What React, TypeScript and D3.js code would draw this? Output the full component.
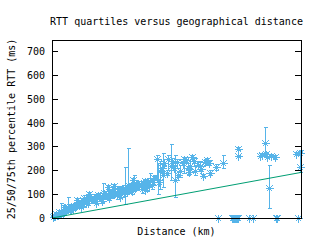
import React from 'react';
import * as d3 from 'd3';

// distance (km) and RTT quartiles (ms) per measured path
const distanceKm = [
  100, 250, 400, 550, 700, 720, 850, 950, 1150, 1280, 1300, 1450, 1500, 1650, 1800, 2000,
  2200, 2400, 2600, 2800, 3000, 3200, 3400, 3600, 3855, 4100, 4300, 4500, 4700, 4900,
  5100, 5300, 5500, 5700, 5900, 6100, 6300, 6500, 6600, 6800, 7000, 7150, 7400, 7700,
  7870, 8100, 8400, 8500, 8700, 8900, 9300, 9520, 9850, 10040, 10300, 10600, 10900,
  11100, 11250, 11500, 11900, 12100, 12300, 12450, 12700, 13150, 13700, 14940, 14940,
  16700, 16900, 17108, 17200, 17300, 17400, 17600, 17900, 19600, 19900, 19920,
  300, 600, 1000, 1700, 2300, 2900, 3500, 4000, 4600, 5200, 5800, 6400, 7200, 7600, 8000,
  200, 500, 800, 1100, 1400, 1900, 2100, 2500, 2700, 3100, 3300, 3700, 3900, 4200, 4400,
  4800, 5000, 5400, 5600, 6000, 6200, 6700, 6900, 7300, 7500, 7800, 8200, 8600, 8800,
  9000, 9200, 9600, 9800, 10100, 10500, 10800, 11000, 11400, 11700, 12000, 12600,
  1000, 2000, 3000, 3500, 4500, 5500, 6500, 7500, 2600, 4000, 5000, 6000,
];
const rttP25 = [
  2, 5, 3, 8, 10, 14, 12, 15, 20, 30, 28, 25, 30, 35, 38, 42,
  45, 48, 50, 55, 60, 62, 68, 70, 75, 80, 82, 85, 88, 90,
  92, 95, 98, 100, 55, 115, 105, 110, 115, 115, 118, 140, 125, 130,
  135, 140, 150, 100, 120, 130, 200, 160, 88, 210, 170, 188, 180,
  190, 245, 180, 200, 170, 220, 225, 180, 200, 209, 285, 255,
  255, 258, 255, 260, 250, 40, 255, 248, 262, 190, 265,
  10, 18, 22, 30, 38, 52, 58, 65, 72, 80, 92, 98, 105, 112, 122,
  4, 8, 18, 26, 36, 42, 54, 62, 56, 76, 70, 88, 78, 96, 86,
  104, 92, 116, 104, 120, 128, 120, 138, 128, 148, 134, 160, 142, 190,
  215, 180, 230, 200, 170, 220, 235, 185, 230, 215, 195, 220,
  38, 68, 92, 55, 122, 82, 150, 112, 78, 62, 125, 100,
];
const rttP50 = [
  5, 8, 12, 15, 18, 20, 22, 25, 30, 45, 42, 38, 40, 48, 52, 55,
  60, 63, 68, 72, 75, 80, 85, 88, 92, 95, 98, 100, 105, 108,
  110, 115, 118, 120, 125, 130, 125, 130, 135, 135, 140, 145, 148, 150,
  155, 160, 250, 160, 200, 180, 250, 220, 160, 235, 200, 250, 210,
  220, 255, 200, 220, 175, 235, 243, 190, 214, 230, 290, 260,
  262, 265, 315, 268, 258, 125, 262, 255, 268, 215, 275,
  16, 24, 30, 40, 48, 62, 70, 78, 86, 96, 108, 115, 122, 130, 140,
  10, 14, 26, 34, 44, 50, 62, 70, 64, 84, 78, 96, 86, 104, 94,
  112, 100, 124, 112, 128, 136, 128, 146, 136, 156, 142, 170, 150, 210,
  230, 190, 240, 210, 180, 230, 245, 195, 240, 225, 205, 230,
  45, 75, 100, 62, 130, 90, 160, 120, 86, 70, 134, 108,
];
const rttP75 = [
  9, 14, 18, 22, 25, 62, 30, 32, 38, 88, 55, 50, 52, 58, 62, 66,
  70, 75, 80, 85, 88, 92, 98, 102, 105, 147, 110, 115, 118, 122,
  125, 128, 130, 135, 214, 294, 140, 145, 180, 150, 155, 152, 160, 165,
  189, 175, 264, 230, 240, 272, 262, 310, 264, 245, 220, 256, 230,
  240, 265, 215, 240, 185, 245, 250, 200, 225, 264, 295, 265,
  270, 272, 382, 275, 266, 222, 268, 262, 275, 277, 285,
  22, 30, 38, 48, 56, 70, 80, 88, 95, 105, 118, 125, 135, 142, 152,
  16, 20, 34, 42, 52, 58, 70, 78, 72, 92, 86, 104, 94, 112, 102,
  120, 108, 132, 120, 136, 144, 136, 154, 144, 164, 150, 180, 158, 225,
  245, 200, 250, 220, 190, 240, 255, 205, 250, 235, 215, 240,
  52, 82, 108, 70, 138, 98, 168, 128, 94, 78, 142, 116,
];

// paths with a zero RTT
const zeroDistanceKm = [13330, 14450, 14530, 14600, 14700, 14750, 14860, 14900, 15820, 16140, 18000, 18070, 19750];

// propagation reference line
const refDistanceKm = [0, 20000];
const refRtt = [0, 192];

const yTicks = [0, 100, 200, 300, 400, 500, 600, 700];

const W = 320;
const H = 240;
const margin = { left: 52, right: 19, top: 40, bottom: 22 };
const blue = '#56b4e9';
const green = '#009e73';
const font = '"DejaVu Sans Mono", monospace';

function Star({ cx, cy }: { cx: number; cy: number }) {
  const r = 4;
  const d = 3;
  const py = Math.round(cy) + 0.5;
  return (
    <path
      d={`M${cx - r},${py}H${cx + r}M${cx},${py - r}V${py + r}M${cx - d},${py - d}L${cx + d},${py + d}M${cx - d},${py + d}L${cx + d},${py - d}`}
      stroke={blue}
      strokeWidth={1}
      fill="none"
      shapeRendering="crispEdges"
    />
  );
}

export default function App() {
  const x = d3.scaleLinear().domain([0, 20000]).range([margin.left, W - margin.right]);
  const y = d3.scaleLinear().domain([0, 750]).range([H - margin.bottom, margin.top]);

  const refLine = d3
    .line<number>()
    .x((_, i) => x(refDistanceKm[i]))
    .y(d => y(d));

  const x0 = x.range()[0];
  const x1 = x.range()[1];
  const yTop = y.range()[1];
  const yBot = y.range()[0];

  return (
    <svg
      width={W}
      height={H}
      style={{ position: 'absolute', left: 0, top: 0, background: '#fff' }}
      fontFamily={font}
      fontSize={10}
    >
      <text x={(x0 + x1) / 2} y={25} textAnchor="middle" fill="#000">
        RTT quartiles versus geographical distance
      </text>

      {/* error bars + medians */}
      <g>
        {distanceKm.map((km, i) => {
          const cx = Math.round(x(km)) + 0.5;
          const top = y(rttP75[i]);
          const bot = y(rttP25[i]);
          return (
            <g key={i}>
              <path
                d={`M${cx},${top}V${bot}M${cx - 2},${top}H${cx + 2}M${cx - 2},${bot}H${cx + 2}`}
                stroke={blue}
                strokeWidth={1}
                fill="none"
                shapeRendering="crispEdges"
              />
              <Star cx={cx} cy={y(rttP50[i])} />
            </g>
          );
        })}
        {zeroDistanceKm.map((km, i) => (
          <Star key={'z' + i} cx={Math.round(x(km)) + 0.5} cy={y(0)} />
        ))}
      </g>

      <path d={refLine(refRtt) || ''} stroke={green} strokeWidth={1} fill="none" />

      {/* frame and ticks */}
      <g shapeRendering="crispEdges" stroke="#000" strokeWidth={1}>
        <rect x={x0} y={yTop} width={x1 - x0} height={yBot - yTop} fill="none" />
        {yTicks.map(t => (
          <g key={t}>
            <line x1={x0} x2={x0 + 6} y1={y(t)} y2={y(t)} />
            <line x1={x1 - 6} x2={x1} y1={y(t)} y2={y(t)} />
          </g>
        ))}
      </g>
      {yTicks.map(t => (
        <text key={t} x={x0 - 7} y={y(t)} dy="0.35em" textAnchor="end" fill="#000">
          {t}
        </text>
      ))}

      <text
        transform={`translate(15,${(yTop + yBot) / 2}) rotate(-90)`}
        textAnchor="middle"
        fill="#000"
      >
        25/50/75th percentile RTT (ms)
      </text>
      <text x={(x0 + x1) / 2} y={235} textAnchor="middle" fill="#000">
        Distance (km)
      </text>
    </svg>
  );
}
